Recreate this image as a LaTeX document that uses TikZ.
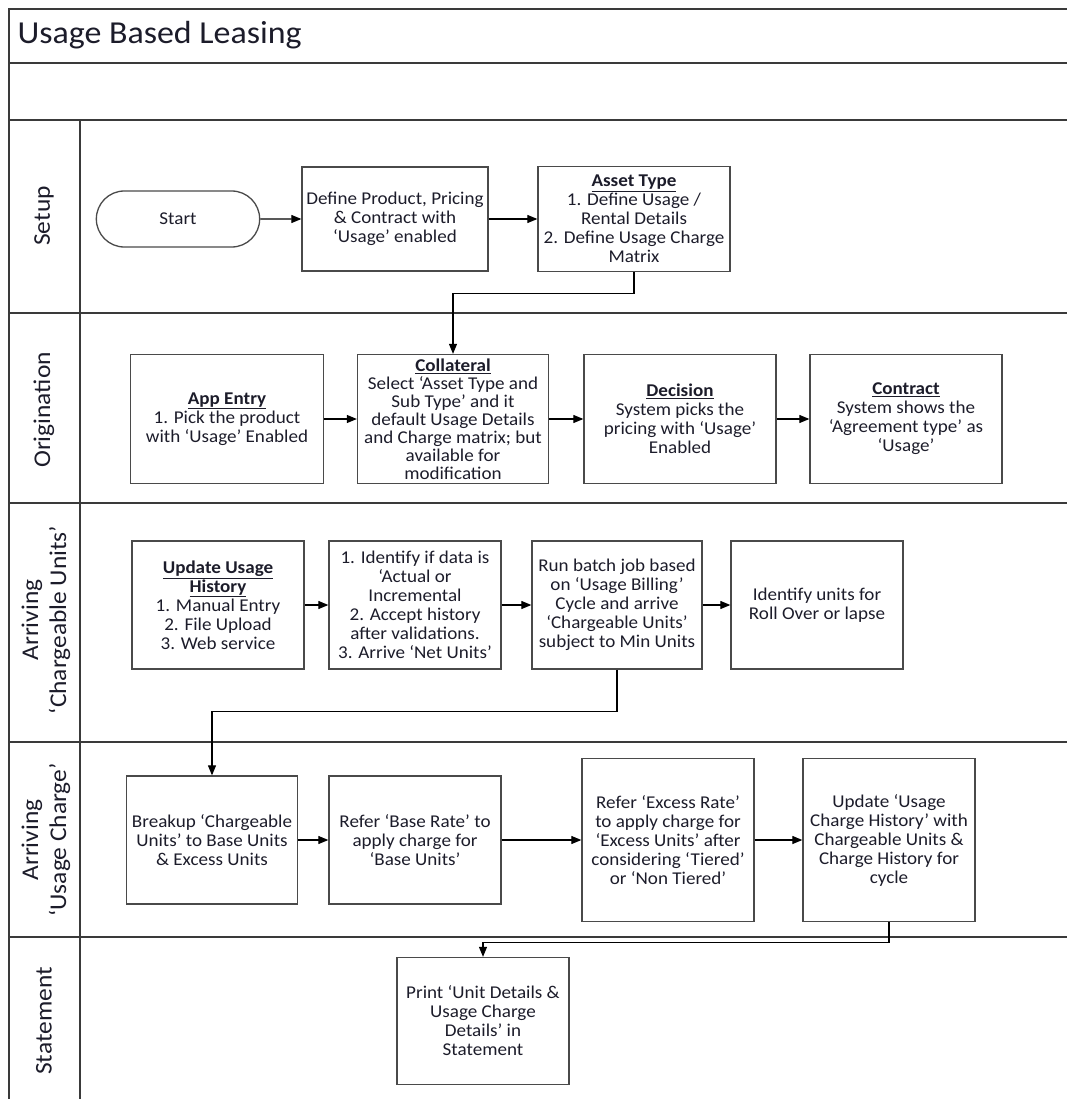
\documentclass[tikz,border=0pt]{standalone}
\usepackage{fontspec}
\setmainfont{Carlito}[FakeStretch=1.06]
\usepackage{tikz}
\usetikzlibrary{arrows.meta,positioning,shapes.misc}
\definecolor{LaneLine}{HTML}{3A3A3A}
\definecolor{BoxLine}{HTML}{4A4A4A}
\definecolor{Ink}{HTML}{1C1C2A}

\begin{document}
\begin{tikzpicture}[x=1pt, y=-1pt,
    every node/.style={font=\fontsize{18}{19}\selectfont, text=Ink},
    proc/.style={draw=BoxLine, line width=1.3pt, align=center, inner sep=0pt,
      minimum width=172pt, minimum height=128pt},
    term/.style={rounded rectangle, draw=BoxLine, line width=1.3pt,
      minimum width=170pt, minimum height=56pt},
    flow/.style={-{Triangle[length=10pt,width=8pt]}, line width=1.1pt},
    lane/.style={font=\fontsize{24}{28}\selectfont, rotate=90, align=center}]
  \useasboundingbox (0,0) rectangle (1067,1099);
  \draw[LaneLine, line width=1.8pt] (9,1099) |- (1067,9);
  \foreach \yy in {63,120,313,503,742,937}
    \draw[LaneLine, line width=1.8pt] (9,\yy) -- (1067,\yy);
  \draw[LaneLine, line width=1.8pt] (80,120) -- (80,1099);

  \node[anchor=base west, font=\fontsize{32}{38}\selectfont] (title) at (14,44) {Usage Based Leasing};

  \node[lane] (lsetup) at (44,216) {Setup};
  \node[lane] (lorig) at (44,410) {Origination};
  \node[lane] (lunits) at (46,620) {Arriving\\‘Chargeable Units’};
  \node[lane] (lcharge) at (46,840) {Arriving\\‘Usage Charge’};
  \node[lane] (lstmt) at (44,1021) {Statement};

  \node[term] (start) at (178,219) {Start};
  \node[proc, minimum width=186pt, minimum height=104pt] (prod) at (395,219)
    {Define Product, Pricing\\\& Contract with\\‘Usage’ enabled};
  \node[proc, minimum width=192pt, minimum height=105pt] (asset) at (634,219)
    {\underline{\textbf{Asset Type}}\\1. Define Usage /\\Rental Details\\2. Define Usage Charge\\Matrix};

  \node[proc, minimum width=193pt, minimum height=129pt] (app) at (227,419)
    {\underline{\textbf{App Entry}}\\1. Pick the product\\with ‘Usage’ Enabled};
  \node[proc, minimum width=191pt, minimum height=129pt, font=\fontsize{18}{18}\selectfont] (coll) at (453,419)
    {\underline{\textbf{Collateral}}\\Select ‘Asset Type and\\Sub Type’ and it\\default Usage Details\\and Charge matrix; but\\available for\\modification};
  \node[proc, minimum width=192pt, minimum height=129pt] (dec) at (680,419)
    {\underline{\textbf{Decision}}\\System picks the\\pricing with ‘Usage’\\Enabled};
  \node[proc, minimum width=192pt, minimum height=129pt] (con) at (906,419)
    {\underline{\textbf{Contract}}\\System shows the\\‘Agreement type’ as\\‘Usage’};

  \node[proc] (upd) at (218,605)
    {\underline{\textbf{Update Usage}}\\\underline{\textbf{History}}\\1. Manual Entry\\2. File Upload\\3. Web service};
  \node[proc] (ident) at (415,605)
    {1. Identify if data is\\‘Actual or\\Incremental\\2. Accept history\\after validations.\\3. Arrive ‘Net Units’};
  \node[proc, minimum width=170pt] (batch) at (617,605)
    {Run batch job based\\on ‘Usage Billing’\\Cycle and arrive\\‘Chargeable Units’\\subject to Min Units};
  \node[proc] (roll) at (817,605) {Identify units for\\Roll Over or lapse};

  \node[proc, minimum width=171pt] (brk) at (212,840)
    {Breakup ‘Chargeable\\Units’ to Base Units\\\& Excess Units};
  \node[proc] (base) at (415,840) {Refer ‘Base Rate’ to\\apply charge for\\‘Base Units’};
  \node[proc, minimum height=163pt] (exc) at (668,840)
    {Refer ‘Excess Rate’\\to apply charge for\\‘Excess Units’ after\\considering ‘Tiered’\\or ‘Non Tiered’};
  \node[proc, minimum height=163pt] (uch) at (889,840)
    {Update ‘Usage\\Charge History’ with\\Chargeable Units \&\\Charge History for\\cycle};

  \node[proc, minimum height=127pt] (prt) at (483,1021)
    {Print ‘Unit Details \&\\Usage Charge\\Details’ in\\Statement};

  \draw[flow] (start) -- (prod);
  \draw[flow] (prod) -- (asset);
  \draw[flow] (asset.south) -- ++(0,21) -| (coll.north);
  \draw[flow] (app) -- (coll);
  \draw[flow] (coll) -- (dec);
  \draw[flow] (dec) -- (con);
  \draw[flow] (upd) -- (ident);
  \draw[flow] (ident) -- (batch);
  \draw[flow] (batch) -- (roll);
  \draw[flow] (batch.south) -- ++(0,42) -| (brk.north);
  \draw[flow] (brk) -- (base);
  \draw[flow] (base) -- (exc);
  \draw[flow] (exc) -- (uch);
  \draw[flow] (uch.south) -- ++(0,20) -| (prt.north);
\end{tikzpicture}
\end{document}
